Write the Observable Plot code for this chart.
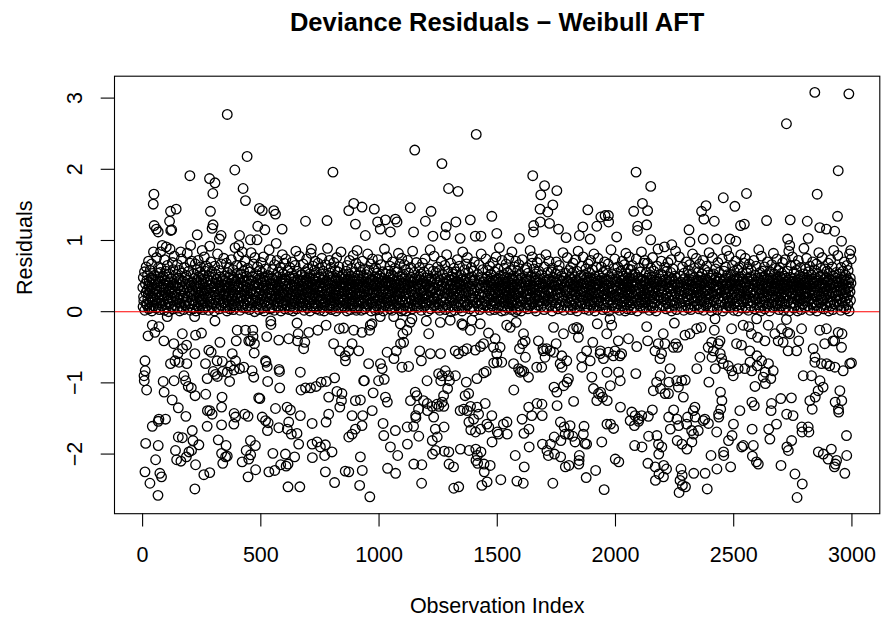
<!DOCTYPE html>
<html><head><meta charset="utf-8">
<script src="https://cdn.jsdelivr.net/npm/d3@7"></script>
<script src="https://cdn.jsdelivr.net/npm/@observablehq/plot@0.6"></script>
<style>body{margin:0;background:#fff}</style>
</head><body><div id="chart"></div>
<script>
const titleText = "Deviance Residuals − Weibull AFT";
const xLabel = "Observation Index";
const yLabel = "Residuals";
const xTicks = [0, 500, 1000, 1500, 2000, 2500, 3000];
const yTicks = [-2, -1, 0, 1, 2, 3];

// Observations read individually (below the dense cluster)
const lowerIndex = [
41,69,23,52,104,168,224,249,306,220,
400,435,466,467,456,473,472,525,542,543,
576,618,653,658,655,686,681,703,741,776,
832,850,893,928,90,132,169,186,149,137,
154,187,221,118,280,290,327,396,449,379,
315,337,266,299,372,393,428,463,520,527,
577,579,667,808,833,857,858,886,872,914,
10,11,6,7,17,87,91,133,175,182,
193,206,222,267,273,308,316,338,358,368,
386,410,470,491,496,522,529,580,670,689,
710,734,755,777,812,787,822,841,843,900,
921,935,125,151,183,336,334,274,284,294,
387,393,386,432,446,506,520,531,528,562,
576,611,625,618,612,629,653,667,717,776,
787,834,886,931,900,928,69,97,41,66,
273,334,13,66,151,168,210,213,238,139,
144,162,185,207,196,224,320,353,358,351,
334,339,421,438,456,457,477,449,478,551,
604,615,607,643,584,660,717,718,738,752,
770,773,801,872,886,921,55,10,31,73,
80,65,221,259,284,446,534,559,615,665,
773,812,857,872,918,
963,970,960,1005,1062,1090,1132,1101,1118,1139,
1200,1210,1259,1301,1350,1355,1386,1393,1428,1463,
1491,1540,1555,1580,1611,1618,1607,1674,1693,1738,
1749,1780,1822,1836,1843,1844,1923,1904,1935,1963,
956,1006,1013,1034,1063,1073,1091,1104,1097,1125,
1172,1179,1217,1260,1322,1336,1357,1372,1407,1429,
1442,1484,1498,1512,1519,1499,1485,1569,1590,1594,
1604,1619,1667,1688,1702,1695,1709,1724,1739,1766,
1773,1774,1794,1857,1878,1858,1893,1900,1936,1949,
1970,1964,938,975,998,1022,1027,1035,1153,1160,
1203,1252,1266,1261,1280,1294,1298,1323,1290,1273,
1369,1414,1443,1453,1379,1364,1570,1597,1612,1632,
1740,1752,1781,1795,1801,1907,1928,1937,1945,1965,
1823,971,1133,1188,1204,1224,1245,1253,1267,1274,
1167,1155,1156,1205,1231,1343,1358,1373,1387,1415,
1421,1449,1400,1380,1477,1430,1464,1500,1526,1541,
1505,1542,1605,1633,1646,1668,1689,1690,1753,1767,
1783,1808,1867,1921,1964,1017,1020,1069,1119,1146,
1168,1238,1246,1275,1388,1408,1456,1613,1634,1048,
1079,1120,1225,1239,1226,1276,1295,1315,1296,1344,
1381,1409,1416,1410,1417,1478,1470,1444,1431,1445,
1576,1614,1635,1691,1710,1716,1741,1725,1742,1768,
1769,1787,1802,1819,1829,1864,1871,1878,1847,1845,
1846,1803,1788,1942,929,1036,1070,1147,1181,961,
1180,1316,1337,1435,1457,1515,1583,1610,1735,1876,
1916,1952,
1977,1984,2132,2249,2343,2362,2421,2418,2491,2540,
2564,2575,2601,2597,2646,2674,2702,2723,2728,2737,
2787,2864,2892,2942,2958,2927,2012,2055,2090,2136,
2181,2202,2255,2263,2294,2315,2407,2442,2512,2533,
2568,2598,2632,2688,2709,2730,2766,2775,2836,2885,
2920,2956,1998,2026,1991,2019,2167,2188,2209,2195,
2245,2357,2392,2414,2435,2443,2449,2408,2422,2456,
2477,2492,2498,2519,2547,2569,2576,2599,2618,2647,
2667,2633,2625,2657,2794,2829,2843,2871,2893,2906,
2928,2963,2991,2998,2844,2344,2231,2189,2174,2280,
2259,2226,2295,2086,2013,2020,1978,2160,2190,2210,
2224,2287,2266,2336,2329,2395,2444,2450,2445,2436,
2437,2526,2577,2587,2590,2634,2660,2658,2699,2744,
2724,2751,2822,2832,2845,2857,2878,2865,2949,2943,
2957,2929,2944,2021,2069,2083,2097,2111,2139,2156,
2062,2080,2098,1979,1992,2225,2246,2260,2305,2337,
2371,2393,2378,2428,2499,2578,2648,2681,2788,2815,
2789,2818,2232,2267,2301,2322,2330,2350,2140,2175,
2182,2196,2183,2081,2112,2261,2281,2302,2323,2478,
2493,2534,2541,2583,2579,2596,2604,2457,2458,2404,
2653,2725,2731,2745,2858,2879,2913,2899,2930,2935,
2977,2978,1999,2014,2137,2168,2184,2169,2203,2216,
2204,2277,2282,2273,2283,2296,2269,2331,2379,2429,
2487,2388,2700,2759,2790,2768,2926,2970
];
const lowerResid = [
-.19,-.21,-.34,-.29,-.07,-.31,-.33,-.3,-.13,-.07,
-.26,-.26,-.26,-.35,-.41,-.45,-.58,-.35,-.13,-.18,
-.4,-.38,-.16,-.31,-.41,-.43,-.52,-.29,-.26,-.19,
-.24,-.23,-.26,-.29,-.41,-.45,-.52,-.47,-.59,-.69,
-.71,-.73,-.59,-.73,-.54,-.57,-.43,-.41,-.41,-.59,
-.69,-.7,-.73,-.84,-.76,-.69,-.78,-.83,-.69,-.77,
-.81,-.84,-.85,-.45,-.55,-.62,-.69,-.45,-.55,-.55,
-.69,-.83,-.9,-.97,-1.1,-.98,-1.13,-.97,-.9,-.97,
-1.05,-1.07,-1.18,-1.16,-.94,-.88,-.91,-.84,-.85,-.98,
-.82,-.8,-.92,-1.21,-1.22,-.71,-.98,-1.07,-1.1,-1.07,
-1.07,-1.05,-.99,-.98,-.93,-1.2,-1.12,-1.25,-1.15,-1.25,
-1.24,-.97,-1.24,-1.35,-1.47,-1.2,-1.34,-1.39,-1.39,-1.44,
-1.43,-1.48,-1.58,-1.44,-1.47,-1.48,-1.53,-1.56,-1.67,-1.36,
-1.63,-1.34,-1.38,-1.55,-1.65,-1.72,-1.71,-1.46,-1.57,-1.55,
-1.44,-1.34,-1.46,-1.46,-1.65,-1.6,-1.51,-1.51,-1.61,-1.54,
-1.61,-1.59,-1.85,-1.88,-1.76,-1.77,-1.67,-1.81,-1.87,-1.95,
-2.08,-2.1,-2.04,-1.95,-1.97,-2.15,-1.8,-1.88,-2.03,-2.04,
-1.99,-2.13,-2.11,-1.95,-1.81,-2.01,-1.88,-2.07,-2.22,-1.99,
-2,-2.14,-2.17,-2.04,-2.15,-1.86,-1.86,-2.05,-1.83,-1.9,
-2.02,-1.87,-1.97,-1.76,-1.72,-2.04,-2.08,-2.25,-2.41,-2.27,
-2.32,-2.58,-2.49,-2.29,-2.26,-2.32,-2.25,-2.23,-2.46,-2.46,
-2.25,-2.4,-2.24,-2.25,-2.44,
-.19,-.17,-.26,-.07,-.07,-.17,-.15,-.31,-.26,-.1,
-.13,-.31,-.15,-.12,-.17,-.19,-.26,-.12,-.17,-.3,
-.38,-.19,-.22,-.15,-.31,-.41,-.45,-.41,-.52,-.22,
-.45,-.31,-.24,-.22,-.36,-.24,-.17,-.43,-.59,-.31,
-.73,-.73,-.8,-.57,-.66,-.55,-.45,-.43,-.78,-.77,
-.55,-.69,-.59,-.59,-.55,-.59,-.55,-.52,-.54,-.49,
-.45,-.5,-.59,-.5,-.71,-.71,-.72,-.73,-.8,-.52,
-.83,-.64,-.78,-.78,-.64,-.55,-.52,-.55,-.57,-.73,
-.62,-.78,-.69,-.64,-.55,-.78,-.69,-.92,-.55,-.66,
-.57,-.85,-.97,-1.14,-.97,-.95,-1.2,-1.27,-1.13,-1.18,
-.97,-.87,-.9,-.97,-.83,-.9,-.97,-.9,-1.08,-1.18,
-.99,-.94,-.86,-.84,-1.15,-1.18,-1.1,-.85,-.84,-.92,
-1.06,-1.13,-1.04,-.99,-.94,-1.08,-1.15,-1.13,-1.2,-1.25,
-1.26,-1.39,-1.25,-1.25,-1.29,-1.33,-1.3,-1.33,-1.27,-1.33,
-1.37,-1.46,-1.49,-1.39,-1.48,-1.39,-1.37,-1.39,-1.33,-1.34,
-1.44,-1.29,-1.51,-1.55,-1.46,-1.65,-1.62,-1.69,-1.58,-1.55,
-1.72,-1.72,-1.51,-1.34,-1.46,-1.29,-1.3,-1.46,-1.32,-1.55,
-1.62,-1.6,-1.61,-1.25,-1.58,-1.57,-1.74,-1.67,-1.62,-1.61,
-1.75,-1.65,-1.76,-1.62,-1.66,-1.69,-1.58,-1.71,-1.65,-1.9,
-2.02,-1.86,-1.81,-1.95,-2,-1.96,-1.97,-2.18,-2.14,-1.93,
-1.95,-1.93,-2.02,-2.09,-2.13,-1.83,-2.16,-2.14,-1.97,-2.25,
-2.02,-2.18,-1.9,-1.86,-1.95,-2.02,-1.76,-1.86,-2,-2.04,
-1.81,-1.72,-1.72,-1.75,-1.83,-1.72,-1.85,-1.86,-2.02,-2.14,
-2.09,-2.16,-2.18,-1.83,-2.23,-2.2,-2.27,-2.14,-2.15,-2.6,
-2.41,-2.48,-2.46,-2.44,-2.39,-2.36,-2.38,-2.41,-2.41,-2.33,
-2.23,-2.5,
-.1,-.19,-.21,-.16,-.24,-.22,-.1,-.26,-.24,-.19,
-.21,-.31,-.36,-.1,-.19,-.31,-.24,-.11,-.29,-.31,
-.24,-.26,-.24,-.29,-.31,-.41,-.41,-.38,-.49,-.41,
-.45,-.31,-.45,-.5,-.33,-.31,-.43,-.41,-.45,-.47,
-.55,-.62,-.41,-.41,-.43,-.55,-.55,-.41,-.52,-.45,
-.41,-.5,-.55,-.59,-.62,-.62,-.55,-.66,-.45,-.59,
-.5,-.64,-.5,-.55,-.45,-.59,-.66,-.64,-.8,-.73,
-.76,-.83,-.9,-.8,-.8,-.71,-.83,-.76,-.69,-.73,
-.83,-.85,-.92,-.94,-.9,-.9,-.71,-.73,-.73,-.76,
-.78,-.83,-.73,-.72,-.64,-.8,-.8,-.9,-.99,-.97,
-.97,-.99,-.96,-.87,-.85,-.97,-1.04,-1.11,-1.08,-1.15,
-1.15,-1.2,-1.06,-1.34,-1.39,-.99,-1.13,-1.25,-1.37,-1.44,
-1.48,-1.39,-1.27,-1.32,-1.05,-1.01,-1.29,-1.39,-1.22,-1.21,
-1.44,-1.46,-1.25,-1.37,-1.2,-1.11,-1.06,-.97,-1.11,-1.37,
-1.25,-1.27,-1.41,-1.34,-1.41,-1.46,-1.51,-1.46,-1.47,-1.38,
-1.53,-1.6,-1.54,-1.58,-1.64,-1.48,-1.38,-1.51,-1.48,-1.48,
-1.53,-1.57,-1.51,-1.69,-1.58,-1.65,-1.65,-1.58,-1.62,-1.62,
-1.69,-1.69,-1.65,-1.6,-1.58,-1.67,-1.72,-1.67,-1.75,-1.74,
-1.86,-1.9,-2,-1.88,-1.9,-1.81,-1.86,-1.93,-1.83,-1.81,
-1.74,-1.9,-1.88,-1.88,-2.03,-2.11,-2.14,-1.97,-2.02,-2.02,
-1.79,-1.9,-1.95,-1.81,-1.97,-2,-1.93,-2.07,-2.14,-2.09,
-1.74,-2.02,-2.07,-2.11,-2.13,-2.18,-2.28,-2.37,-2.32,-2.21,
-2.16,-2.21,-2.3,-2.37,-2.44,-2.46,-2.54,-2.27,-2.27,-2.21,
-2.18,-2.49,-2.16,-2.28,-2.42,-2.61,-2.18,-2.27
];

// Observations read individually (above the dense cluster)
const upperIndex = [
358,442,390,200,283,306,297,425,435,48,
45,118,142,114,123,119,287,298,294,332,
325,231,49,58,66,83,100,76,494,506,
555,562,590,689,780,805,872,893,900,928,
487,517,410,407,456,484,565,714,284,203,
161,421,1411,1151,1266,1294,1334,1650,1700,1752,
1684,1735,1681,1714,980,1132,1220,1196,1325,1386,
1477,1883,1938,1956,1970,1921,1862,1971,994,1027,
1069,1076,1005,1146,1284,1280,1228,1343,1407,1431,
1498,1594,1653,1654,1682,1721,1759,1791,1847,1893,
942,1048,2843,2987,2723,2087,2149,2942,2853,2456,
2554,2505,2383,2364,2374,2418,2114,2077,2136,2094,
2093,2132,2311,2529,2545,2639,2739,2811,2939,2864,
2892,2927,2149,2371,2428,2484,2509,2728,2815,2737,
2005,2238,2315,2956,2995,2207
];
const upperResid = [
2.77,2.18,1.99,1.91,1.87,1.81,1.66,1.73,1.56,1.65,
1.51,1.41,1.44,1.27,1.15,1.14,1.41,1.22,1.17,1.07,
1.02,1.08,1.21,1.16,1.12,.93,.91,.84,1.45,1.42,
1.42,1.37,1.16,1.27,1.28,1.96,1.42,1.52,1.23,1.47,
1.2,1.15,1.07,.93,1.01,1.01,.96,.88,.92,.93,
.84,.84,2.49,2.27,2.08,1.73,1.69,1.91,1.77,1.7,
1.64,1.5,1.44,1.4,1.44,1.46,1.41,1.27,1.26,1.29,
1.34,1.43,1.33,1.35,1.35,1.2,1.19,1.26,1.26,1.29,
1.3,1.26,1.16,1.12,1.19,1.08,1.06,1.03,1.06,1.06,
1.1,1.03,1.12,1.21,1.26,1.24,1.16,1.04,1.07,1.02,
1.07,1.12,3.08,3.06,2.64,1.96,1.76,1.98,1.65,1.6,
1.66,1.48,1.49,1.41,1.3,1.27,1.52,1.41,1.42,1.2,
1.14,1.22,1.15,1.21,1.23,1.28,1.29,1.27,1.34,1.18,
1.16,1.13,1.01,1.02,1.02,1.02,.99,1.02,1.03,.93,
1.05,.94,.98,.99,.86,.91
];

// Dense cluster near zero, in observation order (fills the remaining indices)
const clusterResid = [
.34,.07,.48,.21,.15,.56,.02,.39,.27,.63,.11,.44,.09,.31,.52,.18,.25,.71,.04,.36,.42,.13,.29,.58,.06,.33,.19,.47,.22,.67,.01,.38,.14,.45,.26,.84,.08,.51,.32,.17,.41,.23,.05,.76,.37,.12,.28,.54,.46,.62,
.19,.43,.03,.28,.55,.35,.12,.61,.24,.08,.47,.31,.16,.5,.39,.21,.02,.73,.44,.27,.1,.57,.33,.06,.4,.18,.65,.23,.37,.14,.49,0,.29,.53,.11,.42,.88,.32,.2,.07,.46,.26,.69,.15,.35,.59,.04,.38,.78,.22,
.27,.09,.36,.52,.14,.41,.2,.66,.05,.33,.47,.17,.58,.24,.01,.38,.12,.45,.29,.74,.07,.35,.54,.19,.43,.22,.03,.31,.62,.13,.48,.26,.09,.39,.51,.16,.82,.21,.44,.06,.34,.57,.11,.28,.4,.68,.02,.37,.25,.71,
.42,.16,.31,.04,.53,.23,.38,.1,.47,.67,.28,.01,.35,.19,.59,.44,.08,.26,.32,.72,.13,.49,.21,.05,.4,.55,.17,.36,.63,.27,.09,.45,.3,.14,.86,.22,.51,.03,.39,.18,.46,.25,.77,.06,.33,.57,.12,.41,.29,.64,
.08,.3,.45,.19,.61,.26,.02,.5,.37,.14,.43,.22,.7,.33,.06,.56,.11,.4,.28,.17,.48,.35,.01,.64,.23,.53,.12,.39,.07,.46,.2,.81,.32,.15,.42,.25,.58,.04,.36,.18,.49,.29,.09,.67,.34,.13,.44,.24,.75,.38,
.23,.5,.12,.37,.06,.44,.29,.68,.17,.33,.01,.55,.41,.2,.09,.36,.47,.14,.62,.26,.04,.39,.52,.18,.31,.73,.08,.45,.22,.11,.34,.59,.27,.03,.48,.15,.38,.9,.24,.43,.07,.3,.65,.19,.54,.35,.1,.46,.21,.78,
.36,.13,.46,.02,.27,.53,.19,.4,.09,.32,.64,.22,.48,.06,.38,.15,.57,.29,.43,.11,.71,.24,.05,.35,.5,.18,.42,.26,.08,.61,.33,.16,.45,.21,.03,.39,.56,.12,.28,.83,.44,.07,.31,.17,.49,.25,.67,.37,0,.76,
.15,.41,.28,.07,.52,.34,.2,.63,.11,.45,.38,.03,.26,.58,.17,.47,.31,.09,.69,.22,.4,.13,.55,.36,.05,.44,.24,.77,.18,.33,.01,.49,.29,.14,.6,.37,.08,.43,.21,.51,.32,.12,.87,.27,.46,.04,.39,.19,.73,.35,
.31,.05,.22,.47,.16,.59,.38,.1,.44,.27,.02,.66,.35,.19,.51,.24,.41,.08,.33,.72,.13,.48,.29,.06,.56,.37,.18,.42,.23,.62,.01,.34,.14,.46,.28,.8,.09,.39,.53,.2,.43,.12,.3,.68,.25,.04,.45,.36,.15,.74,
.44,.21,.09,.35,.58,.14,.27,.49,.03,.39,.18,.62,.32,.07,.46,.25,.54,.11,.37,.7,.2,.42,.01,.29,.5,.16,.33,.06,.47,.23,.65,.38,.12,.85,.26,.41,.04,.31,.57,.17,.45,.28,.08,.36,.78,.19,.43,.24,.13,.52,
.18,.36,.52,.07,.29,.43,.12,.67,.24,.39,.02,.48,.33,.15,.56,.21,.45,.09,.31,.74,.26,.41,.05,.37,.6,.14,.28,.49,.11,.34,.2,.53,.01,.42,.27,.82,.17,.38,.08,.46,.23,.64,.32,.13,.44,.06,.35,.58,.22,.71,
.26,.47,.11,.38,.04,.55,.31,.19,.42,.68,.23,.08,.35,.49,.16,.28,.61,.02,.4,.22,.53,.13,.36,.75,.29,.06,.45,.18,.33,.57,.1,.41,.25,.01,.48,.37,.14,.66,.21,.43,.07,.3,.89,.17,.39,.51,.24,.05,.44,.72,
.09,.33,.21,.54,.4,.16,.62,.28,.03,.45,.37,.12,.5,.24,.07,.69,.31,.19,.43,.58,.14,.36,.27,.01,.47,.22,.76,.39,.1,.32,.56,.18,.44,.05,.29,.63,.35,.13,.48,.2,.84,.38,.06,.41,.25,.52,.15,.34,.08,.46,
.4,.17,.29,.06,.48,.35,.12,.57,.22,.43,.01,.65,.31,.19,.46,.26,.09,.53,.37,.14,.72,.24,.41,.03,.33,.5,.18,.39,.27,.61,.11,.45,.08,.36,.21,.79,.15,.42,.3,.05,.55,.23,.47,.13,.34,.68,.02,.38,.25,.86,
.22,.05,.39,.51,.14,.3,.46,.08,.63,.27,.41,.17,.35,.55,.02,.44,.24,.71,.12,.37,.49,.19,.28,.04,.6,.33,.15,.42,.23,.07,.52,.36,.11,.47,.29,.81,.18,.4,.09,.32,.58,.25,.44,.13,.67,.38,.01,.26,.45,.74,
.35,.12,.44,.27,.06,.59,.19,.38,.49,.23,.02,.62,.31,.15,.42,.08,.54,.26,.36,.73,.17,.46,.03,.29,.5,.21,.4,.11,.33,.66,.24,.07,.47,.14,.37,.56,.28,.01,.43,.18,.88,.32,.09,.41,.25,.53,.16,.39,.2,.77,
.13,.42,.25,.57,.08,.36,.19,.48,.3,.64,.04,.41,.22,.53,.15,.37,.27,.02,.45,.7,.11,.33,.5,.18,.39,.06,.28,.61,.43,.16,.34,.24,.09,.47,.56,.21,.38,.82,.12,.44,.31,.05,.26,.67,.17,.4,.35,.01,.49,.75,
.28,.51,.16,.03,.4,.33,.22,.66,.09,.46,.37,.14,.59,.25,.01,.43,.31,.18,.72,.06,.38,.27,.54,.12,.45,.35,.2,.07,.62,.41,.15,.29,.48,.04,.36,.85,.23,.42,.1,.55,.32,.17,.47,.26,.08,.69,.39,.13,.44,.21,
.06,.37,.24,.49,.17,.62,.32,.11,.45,.28,.53,.02,.39,.2,.68,.14,.43,.3,.07,.56,.26,.41,.18,.35,.74,.09,.47,.23,.12,.38,.51,.01,.33,.44,.21,.6,.15,.36,.27,.87,.04,.42,.29,.13,.46,.34,.57,.19,.08,.78,
.33,.18,.46,.09,.27,.55,.14,.4,.22,.63,.05,.37,.48,.11,.31,.24,.58,.02,.44,.16,.71,.29,.36,.07,.52,.2,.41,.13,.34,.65,.26,.03,.47,.19,.39,.8,.1,.43,.25,.57,.32,.06,.45,.15,.38,.21,.68,0,.28,.49,
.2,.44,.07,.31,.53,.16,.38,.25,.61,.12,.47,.02,.35,.29,.56,.19,.42,.08,.33,.73,.23,.48,.14,.39,.05,.64,.27,.41,.1,.36,.51,.18,.3,.01,.45,.22,.84,.34,.15,.43,.26,.59,.06,.37,.13,.46,.28,.67,.09,.76,
.41,.1,.28,.55,.19,.36,.04,.47,.23,.62,.32,.14,.49,.07,.39,.26,.57,.17,.43,.01,.7,.3,.21,.45,.12,.34,.52,.08,.38,.66,.25,.16,.44,.03,.33,.81,.2,.48,.11,.37,.27,.59,.06,.42,.15,.35,.24,.09,.46,.74,
.14,.32,.49,.22,.06,.58,.37,.17,.43,.29,.64,.02,.4,.25,.53,.11,.35,.47,.08,.21,.69,.31,.44,.15,.38,.03,.56,.27,.12,.45,.34,.77,.19,.41,.05,.3,.6,.23,.46,.16,.36,.9,.09,.28,.42,.51,.18,.33,.01,.72,
.37,.25,.08,.45,.19,.52,.3,.13,.61,.41,.02,.34,.23,.48,.16,.67,.28,.39,.05,.55,.21,.43,.11,.36,.75,.26,.47,.07,.32,.18,.58,.4,.14,.29,.03,.46,.84,.22,.38,.12,.5,.33,.09,.44,.27,.63,.17,.35,0,.71,
.24,.48,.12,.39,.03,.57,.3,.19,.44,.26,.66,.08,.35,.51,.15,.41,.22,.01,.47,.33,.73,.17,.28,.42,.06,.59,.37,.13,.46,.21,.31,.62,.1,.43,.25,.04,.54,.36,.18,.45,.29,.86,.09,.38,.2,.49,.32,.14,.68,.77,
.11,.35,.27,.6,.43,.05,.32,.18,.49,.24,.53,.38,.01,.44,.21,.69,.3,.14,.46,.09,.36,.57,.23,.41,.16,.74,.28,.07,.39,.52,.2,.34,.12,.47,.03,.63,.26,.42,.15,.37,.8,.22,.45,.06,.31,.55,.17,.4,.29,.71,
.46,.2,.09,.33,.56,.26,.14,.42,.38,.01,.61,.29,.17,.48,.23,.36,.07,.53,.41,.12,.7,.31,.25,.44,.04,.37,.58,.19,.32,.65,.1,.45,.27,.06,.39,.5,.21,.43,.15,.83,.34,.02,.47,.24,.3,.54,.13,.4,.28,.76,
.3,.07,.43,.2,.58,.35,.13,.48,.26,.03,.62,.39,.17,.45,.22,.54,.31,.09,.41,.68,.15,.37,.28,.05,.49,.24,.73,.11,.34,.44,.19,.57,.01,.36,.27,.42,.85,.16,.32,.08,.47,.23,.51,.38,.12,.64,.29,.4,.21,.77,
.17,.39,.52,.28,.04,.45,.33,.11,.6,.22,.41,.07,.36,.49,.19,.67,.25,.02,.44,.31,.55,.14,.38,.23,.72,.09,.47,.3,.16,.42,.59,.27,.06,.35,.21,.81,.13,.46,.34,.01,.5,.26,.4,.18,.63,.37,.08,.43,.24,.75,
.39,.15,.27,.51,.08,.44,.34,.2,.63,.12,.47,.29,.03,.55,.36,.23,.41,.1,.7,.31,.18,.46,.25,.05,.58,.38,.14,.43,.22,.67,.33,.01,.49,.28,.17,.4,.87,.26,.35,.09,.53,.21,.45,.13,.32,.61,.06,.42,.24,.74,
.21,.46,.05,.37,.29,.54,.16,.42,.11,.63,.33,.24,.48,.02,.4,.19,.57,.31,.08,.44,.27,.71,.13,.36,.5,.22,.39,.07,.45,.15,.66,.34,.26,.01,.47,.18,.82,.3,.41,.1,.53,.23,.38,.04,.43,.28,.6,.14,.35,.77,
.32,.09,.47,.24,.15,.59,.38,.03,.42,.27,.65,.19,.51,.35,.12,.44,.22,.06,.53,.4,.29,.74,.16,.37,.01,.48,.25,.61,.11,.33,.46,.2,.08,.39,.56,.28,.14,.43,.84,.23,.36,.05,.45,.17,.3,.68,.21,.41,.13,.72,
.25,.43,.14,.06,.38,.55,.21,.47,.31,.68,.1,.4,.27,.02,.52,.35,.18,.45,.23,.61,.08,.36,.49,.13,.29,.76,.41,.05,.33,.57,.19,.44,.26,.12,.39,.48,.01,.34,.64,.22,.42,.16,.88,.3,.07,.46,.37,.53,.2,.71,
.43,.27,.08,.36,.51,.18,.3,.62,.13,.45,.22,.04,.39,.57,.25,.41,.11,.34,.69,.2,.48,.06,.32,.44,.15,.55,.28,.73,.01,.37,.24,.46,.16,.6,.33,.09,.42,.21,.5,.38,.12,.85,.26,.47,.03,.35,.19,.4,.29,.77,
.12,.34,.5,.23,.41,.07,.29,.63,.18,.45,.36,.02,.54,.27,.14,.47,.39,.09,.32,.7,.21,.43,.25,.05,.58,.38,.16,.46,.3,.66,.11,.42,.24,.03,.37,.52,.19,.44,.81,.28,.35,.08,.48,.2,.61,.33,.15,.4,.26,.75,
.36,.2,.45,.1,.28,.56,.33,.04,.42,.24,.67,.15,.38,.49,.07,.31,.22,.53,.43,.17,.72,.26,.02,.4,.35,.13,.59,.29,.46,.08,.37,.21,.64,.44,.11,.3,.55,.18,.83,.25,.41,.06,.34,.47,.14,.39,.23,.01,.51,.76,
.07,.4,.26,.53,.16,.35,.44,.21,.6,.3,.12,.48,.37,.03,.43,.25,.69,.18,.33,.55,.09,.46,.28,.14,.39,.74,.22,.42,.01,.36,.57,.19,.31,.45,.11,.27,.63,.38,.05,.47,.24,.86,.32,.15,.41,.52,.2,.34,.08,.78,
.29,.13,.48,.38,.06,.52,.23,.41,.17,.65,.32,.45,.02,.27,.57,.36,.11,.43,.2,.71,.34,.08,.47,.24,.15,.59,.39,.01,.44,.26,.62,.18,.3,.49,.1,.37,.8,.22,.42,.05,.33,.54,.14,.46,.28,.68,.19,.4,.35,.75,
.41,.24,.05,.37,.18,.54,.29,.46,.12,.6,.33,.02,.43,.21,.67,.36,.15,.49,.26,.08,.58,.39,.31,.13,.45,.72,.22,.04,.38,.51,.17,.42,.27,.64,.1,.34,.47,.19,.87,.3,.06,.44,.25,.55,.14,.4,.32,.01,.48,.78,
.18,.38,.27,.57,.09,.44,.32,.14,.49,.22,.63,.04,.41,.35,.19,.52,.28,.46,.07,.7,.25,.37,.11,.43,.3,.01,.56,.2,.47,.34,.66,.13,.4,.23,.06,.45,.82,.29,.36,.16,.53,.42,.08,.31,.21,.61,.39,.12,.48,.74,
.34,.1,.46,.21,.58,.3,.03,.43,.27,.62,.16,.37,.49,.08,.25,.54,.4,.13,.33,.69,.19,.45,.02,.36,.28,.5,.22,.42,.11,.73,.31,.06,.47,.24,.39,.57,.15,.44,.85,.29,.01,.35,.2,.48,.65,.26,.12,.41,.38,.77,
.26,.43,.12,.35,.05,.55,.39,.2,.47,.31,.66,.09,.42,.24,.58,.17,.36,.01,.45,.28,.72,.14,.4,.33,.07,.51,.23,.46,.18,.62,.37,.03,.29,.44,.11,.53,.32,.21,.89,.41,.15,.48,.27,.06,.34,.6,.19,.38,.25,.75,
.2,.47,.33,.08,.41,.56,.15,.37,.26,.64,.02,.44,.29,.18,.52,.35,.11,.46,.23,.7,.39,.05,.31,.42,.13,.59,.27,.48,.09,.36,.21,.67,.43,.01,.3,.53,.16,.45,.83,.24,.38,.12,.49,.34,.06,.61,.22,.4,.17,.76,
.38,.16,.52,.27,.04,.45,.32,.19,.6,.41,.1,.35,.48,.23,.07,.57,.29,.43,.14,.68,.36,.01,.46,.25,.54,.12,.39,.21,.73,.33,.08,.44,.28,.63,.17,.4,.03,.5,.26,.86,.34,.11,.47,.22,.37,.55,.15,.42,.3,.79,
.23,.41,.09,.36,.53,.18,.46,.29,.02,.62,.34,.13,.44,.25,.57,.39,.06,.48,.21,.7,.31,.15,.43,.27,.51,.04,.37,.65,.19,.45,.33,.1,.58,.24,.42,.01,.35,.81,.28,.47,.16,.4,.74
];

// Build the observation table
const obs = [];
lowerIndex.forEach((i, k) => obs.push({index: i, resid: lowerResid[k]}));
upperIndex.forEach((i, k) => obs.push({index: i, resid: upperResid[k]}));
const taken = new Set([...lowerIndex, ...upperIndex]);
let c = 0;
for (let i = 1; c < clusterResid.length; i++) {
  if (!taken.has(i)) obs.push({index: i, resid: clusterResid[c++]});
}
obs.sort((a, b) => a.index - b.index);

// R-style axis extension (4% on each side)
const pad = ([a, b]) => { const d = (b - a) * 0.04; return [a - d, b + d]; };
const xDom = pad(d3.extent(obs, d => d.index));
const yDom = pad(d3.extent(obs, d => d.resid));

const font = "'Liberation Sans', Arial, Helvetica, sans-serif";
const chart = Plot.plot({
  width: 888, height: 620,
  marginLeft: 114, marginRight: 8.7, marginTop: 75.7, marginBottom: 106.8,
  style: {fontFamily: font, background: "#fff", color: "#000", overflow: "visible"},
  x: {domain: xDom},
  y: {domain: yDom},
  marks: [
    Plot.dot(obs, {x: "index", y: "resid", r: 4.8, stroke: "#000", strokeWidth: 1.3, fill: "none"}),
    Plot.ruleY([0], {stroke: "#ff0000", strokeWidth: 1.1}),
    Plot.frame({stroke: "#000", strokeWidth: 1.1}),
    Plot.axisX(xTicks, {anchor: "bottom", tickSize: 13.3, tickPadding: 20, fontSize: 21.5, label: null, tickFormat: d => String(d), strokeWidth: 1.1}),
    Plot.axisY(yTicks, {anchor: "left", tickSize: 13.3, tickPadding: 19, tickRotate: -90, fontSize: 21.5, label: null, tickFormat: d => d < 0 ? "−" + Math.abs(d) : String(d), strokeWidth: 1.1}),
    Plot.text([titleText], {text: d => d, frameAnchor: "top", dy: -45, lineAnchor: "bottom", fontSize: 25.5, fontWeight: "bold"}),
    Plot.text([xLabel], {text: d => d, frameAnchor: "bottom", dy: 98.8, lineAnchor: "bottom", fontSize: 21.5}),
    Plot.text([yLabel], {text: d => d, frameAnchor: "left", dx: -82.3, rotate: -90, lineAnchor: "bottom", fontSize: 21.5})
  ]
});
document.getElementById("chart").appendChild(chart);
</script>
</body></html>
